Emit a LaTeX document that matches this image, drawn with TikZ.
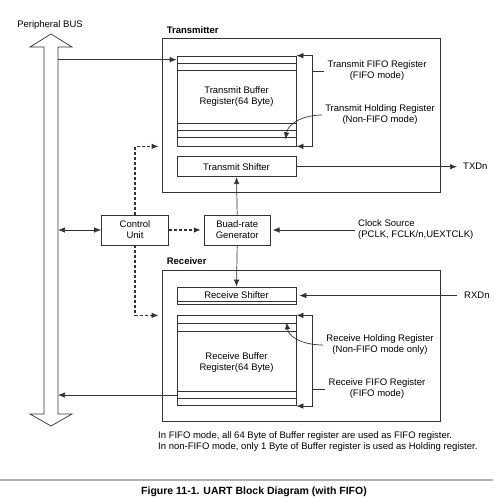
\documentclass[tikz,border=0pt]{standalone}
\usepackage{fontspec}
\setmainfont{Liberation Sans}
\usetikzlibrary{arrows.meta,positioning}

\begin{document}
\begin{tikzpicture}[
		x=1pt, y=-1pt,
		font=\fontsize{9.5}{11}\selectfont,
		ln/.style={draw=black!80, line width=0.7pt},
		block/.style={ln, inner sep=0pt, align=center},
		frame/.style={ln, inner sep=0pt},
		title/.style={font=\fontsize{9.5}{11}\selectfont\bfseries, inner sep=0pt},
		note/.style={align=center, inner sep=3pt},
		arr/.style={ln, -{Latex[length=7pt,width=5.5pt]}},
		arrboth/.style={ln, {Latex[length=7pt,width=5.5pt]}-{Latex[length=7pt,width=5.5pt]}},
		dsh/.style={arr, line width=1.1pt, dash pattern=on 3pt off 2pt},
	]
		\useasboundingbox (0,0) rectangle (493,498);

		% peripheral bus
		\draw[ln, fill=white] (44,47) -- (30,47) -- (51,34) -- (72,47) -- (58,47) -- (58,414) -- (72,414) -- (51,426) -- (30,414) -- (44,414) -- cycle;
		\coordinate (busR) at (58,0);
		\node (buslbl) at (50,25) {Peripheral BUS};

		\node[frame, minimum width=278pt, minimum height=154pt] (txbox) at (301,115) {};
		\node[title, above right=4pt and 5pt of txbox.north west] (txlbl) {Transmitter};
		\node[frame, minimum width=278pt, minimum height=151pt] (rxbox) at (301,345.5) {};
		\node[title, above right=4.5pt and 5pt of rxbox.north west] (rxlbl) {Receiver};

		% transmit side
		\node[block, minimum width=119pt, minimum height=90pt] (tbuf) at (236.5,101) {};
		\node[align=center] (tbuftxt) at ([yshift=4pt]tbuf.center) {Transmit Buffer\\Register(64 Byte)};
		\foreach \d in {8,15,68,75,82}
			\draw[ln] ([yshift=-\d pt]tbuf.north west) -- ([yshift=-\d pt]tbuf.north east);
		\node[block, minimum width=119pt, minimum height=20pt, below=10pt of tbuf] (tshift) {Transmit Shifter};

		% receive side
		\node[block, minimum width=119pt, minimum height=17pt] (rshift) at (236.5,295.5) {Receive Shifter};
		\draw[ln] ([yshift=3pt]rshift.south west) -- ([yshift=3pt]rshift.south east);
		\node[block, minimum width=119pt, minimum height=90pt, below=11pt of rshift] (rbuf) {};
		\node[align=center] (rbuftxt) at ([yshift=-2pt]rbuf.center) {Receive Buffer\\Register(64 Byte)};
		\foreach \d in {8,16,76,83}
			\draw[ln] ([yshift=-\d pt]rbuf.north west) -- ([yshift=-\d pt]rbuf.north east);

		\node[block, minimum width=67pt, minimum height=30pt] (ctrl) at (135,230) {Control\\Unit};
		\node[block, minimum width=66pt, minimum height=30pt, right=35pt of ctrl] (baud) {Buad-rate\\Generator};

		\node[note] (tfifo) at (377,71) {Transmit FIFO Register\\(FIFO mode)};
		\node[note] (thold) at (380,115) {Transmit Holding Register\\(Non-FIFO mode)};
		\node[note] (rhold) at (380,345) {Receive Holding Register\\(Non-FIFO mode only)};
		\node[note] (rfifo) at (377,389) {Receive FIFO Register\\(FIFO mode)};
		\node[anchor=west, align=left, inner sep=3pt] (clk) at (355,230) {Clock Source\\(PCLK, FCLK/n,UEXTCLK)};
		\node[anchor=west, inner xsep=6pt] (txd) at (457,166) {TXDn};
		\node[anchor=west, inner xsep=7pt] (rxd) at (457,295.5) {RXDn};
		\node[anchor=west, align=left, inner sep=0pt] (fifonote) at (158,442) {In FIFO mode, all 64 Byte of Buffer register are used as FIFO register.\\In non-FIFO mode, only 1 Byte of Buffer register is used as Holding register.};

		\coordinate (tbrk) at ([xshift=16pt]tbuf.north east);
		\coordinate (rbrk) at ([xshift=16pt]rbuf.north east);
		\coordinate (tbin) at ([yshift=-4pt]tbuf.north west);
		\coordinate (rbout) at ([yshift=11pt]rbuf.south west);

		\draw[arr] (tbin -| busR) -- (tbin);
		\draw[arr] (rbout) -- (rbout -| busR);
		\draw[arrboth] (ctrl.west -| busR) -- (ctrl.west);
		\draw[dsh, shorten >=3pt] (ctrl) -- (baud);
		\draw[dsh, shorten >=3pt] (ctrl.north) |- (txbox.west |- tbuf.south);
		\draw[dsh, shorten >=3pt] (ctrl.south) |- (rxbox.west |- rbuf.north);
		\draw[arr] (baud.north) -- (tshift.south);
		\draw[arr] (baud.south) -- (rshift.north);
		\draw[arr, shorten >=2pt] (clk.west) -- (baud.east);
		\draw[arr] (tshift.east) -- (tshift.east -| txd.west);
		\draw[arr, shorten >=3pt] (rxd.west) -- (rshift.east);

		\draw[arrboth] (tbuf.north east) -- (tbrk) |- (tbuf.south east);
		\draw[arrboth] (rbuf.north east) -- (rbrk) |- (rbuf.south east);
		\draw[ln] (tfifo.west) -- (tfifo.west -| tbrk);
		\draw[ln] (rfifo.west) -- (rfifo.west -| rbrk);
		\draw[arr] (thold.west) to[out=180, in=80] ([xshift=-11pt, yshift=7pt]tbuf.south east);
		\draw[arr] (rhold.west) to[out=180, in=-80] ([xshift=-10pt, yshift=-7pt]rbuf.north east);

		\draw[gray!60, line width=2pt] (0,480) -- (493,480);
		\node[font=\fontsize{10.5}{12}\selectfont\bfseries] (caption) at (254,492) {Figure 11-1. UART Block Diagram (with FIFO)};
	\end{tikzpicture}
\end{document}
